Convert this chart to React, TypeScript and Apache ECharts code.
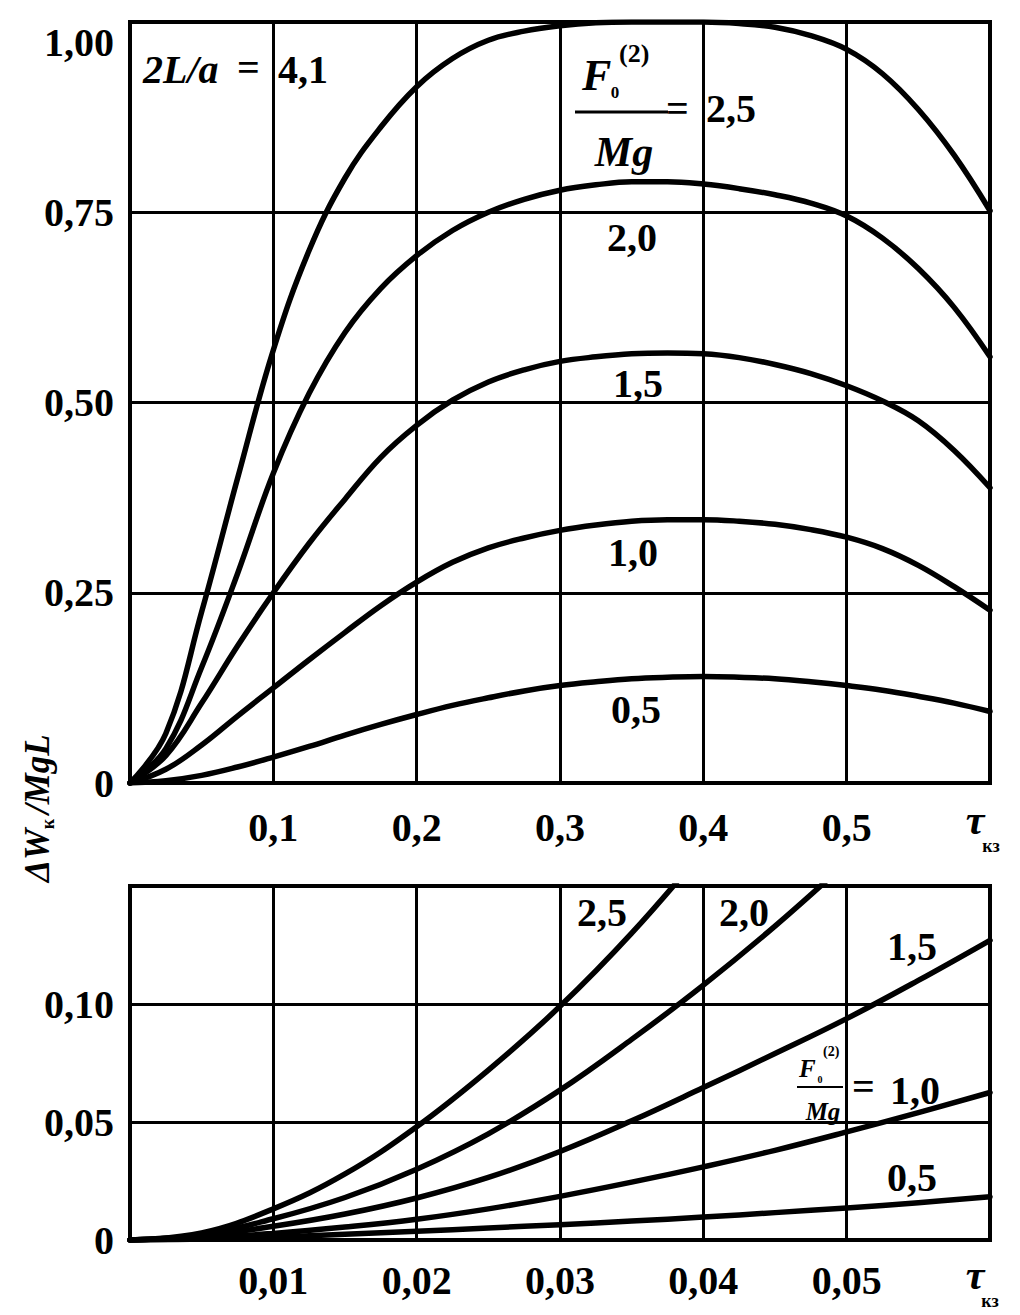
import React, { useEffect, useRef } from "react";
import * as echarts from "echarts";

// ---------- data ----------
const tauTop = [0, 0.025, 0.05, 0.075, 0.1, 0.125, 0.15, 0.175, 0.2, 0.225, 0.25, 0.275, 0.3, 0.325, 0.35, 0.375, 0.4, 0.425, 0.45, 0.475, 0.5, 0.525, 0.55, 0.575, 0.6];
const top25 = [0, 0.065, 0.225, 0.4, 0.569, 0.7, 0.795, 0.862, 0.915, 0.952, 0.976, 0.988, 0.995, 0.999, 1.0, 1.0, 1.0, 0.998, 0.993, 0.982, 0.964, 0.932, 0.885, 0.825, 0.752];
const top20 = [0, 0.045, 0.152, 0.275, 0.407, 0.512, 0.592, 0.65, 0.693, 0.726, 0.75, 0.767, 0.779, 0.786, 0.79, 0.79, 0.787, 0.781, 0.773, 0.762, 0.745, 0.716, 0.676, 0.625, 0.56];
const top15 = [0, 0.036, 0.105, 0.18, 0.25, 0.315, 0.373, 0.428, 0.47, 0.503, 0.527, 0.543, 0.554, 0.56, 0.564, 0.565, 0.564, 0.559, 0.55, 0.538, 0.522, 0.502, 0.476, 0.437, 0.388];
const top10 = [0, 0.018, 0.05, 0.088, 0.125, 0.162, 0.198, 0.233, 0.264, 0.29, 0.309, 0.322, 0.332, 0.339, 0.344, 0.346, 0.346, 0.344, 0.34, 0.333, 0.323, 0.308, 0.286, 0.258, 0.227];
const top05 = [0, 0.003, 0.01, 0.021, 0.034, 0.048, 0.063, 0.077, 0.09, 0.102, 0.112, 0.121, 0.128, 0.133, 0.137, 0.139, 0.14, 0.139, 0.137, 0.133, 0.128, 0.122, 0.114, 0.105, 0.094];

const tauBot = [0, 0.005, 0.01, 0.015, 0.02, 0.025, 0.03, 0.035, 0.04, 0.045, 0.05, 0.055, 0.06];
const bot25 = [0, 0.003, 0.0132, 0.028, 0.048, 0.072, 0.099, 0.13, 0.165];
const bot20 = [0, 0.0022, 0.009, 0.018, 0.03, 0.045, 0.0635, 0.085, 0.108, 0.133, 0.16];
const bot15 = [0, 0.0018, 0.0058, 0.011, 0.0178, 0.0265, 0.0375, 0.0505, 0.0646, 0.079, 0.0938, 0.11, 0.127];
const bot10 = [0, 0.0008, 0.0028, 0.0055, 0.0088, 0.0132, 0.0185, 0.0245, 0.031, 0.038, 0.0458, 0.054, 0.0625];
const bot05 = [0, 0.0004, 0.0012, 0.0024, 0.0037, 0.0051, 0.0065, 0.008, 0.0097, 0.0116, 0.0136, 0.0158, 0.0183];

const topXTicks = ["", "0,1", "0,2", "0,3", "0,4", "0,5", ""];
const topYTicks = ["0", "0,25", "0,50", "0,75", "{t|1,00}"];
const botXTicks = ["", "0,01", "0,02", "0,03", "0,04", "0,05", ""];
const botYTicks = ["0", "0,05", "0,10", ""];

const topCurveLabels = ["2,0", "1,5", "1,0", "0,5"];
const botCurveLabels = ["2,5", "2,0", "1,5", "0,5"];

// ---------- styling ----------
const FF = '"Liberation Serif", "Times New Roman", serif';
const BLACK = "#000";

const pairs = (tau: number[], vals: number[]) => vals.map((v, i) => [tau[i], v]);

const lineSeries = (data: number[][], axis: number) => ({
  type: "line",
  xAxisIndex: axis,
  yAxisIndex: axis,
  data,
  smooth: 0.4,
  symbol: "none",
  showSymbol: false,
  clip: true,
  silent: true,
  lineStyle: { color: BLACK, width: 5.5, cap: "round", join: "round" },
});

const labelStyle = { color: BLACK, fontFamily: FF, fontSize: 40, fontWeight: "bold" };

const makeXAxis = (gridIndex: number, max: number, interval: number, ticks: string[], margin: number) => ({
  gridIndex,
  type: "value",
  min: 0,
  max,
  interval,
  axisLine: { show: false },
  axisTick: { show: false },
  splitLine: { show: true, lineStyle: { color: BLACK, width: 3 } },
  axisLabel: {
    ...labelStyle,
    margin,
    showMinLabel: true,
    showMaxLabel: true,
    formatter: (v: number) => ticks[Math.round(v / interval)] ?? "",
  },
});

const makeYAxis = (gridIndex: number, max: number, interval: number, ticks: string[]) => ({
  gridIndex,
  type: "value",
  min: 0,
  max,
  interval,
  axisLine: { show: false },
  axisTick: { show: false },
  splitLine: { show: true, lineStyle: { color: BLACK, width: 3 } },
  axisLabel: {
    ...labelStyle,
    margin: 16,
    showMinLabel: true,
    showMaxLabel: true,
    formatter: (v: number) => ticks[Math.round(v / interval)] ?? "",
    rich: { t: { ...labelStyle, padding: [40, 0, 0, 0] } },
  },
});

const txt = (text: string, x: number, y: number, font: string, align = "center") => ({
  type: "text",
  x,
  y,
  silent: true,
  style: {
    text,
    font,
    fill: BLACK,
    align,
    textAlign: align,
    verticalAlign: "middle",
    textVerticalAlign: "middle",
  },
});

const B40 = `bold 40px ${FF}`;
const BI40 = `italic bold 40px ${FF}`;

const graphics: any[] = [
  // 2L/a = 4,1
  txt("2L/a", 143, 69, BI40, "left"),
  txt("=", 237, 67, B40, "left"),
  txt("4,1", 278, 69, B40, "left"),
  // F0(2)/Mg = 2,5
  txt("F", 582, 75, `italic bold 44px ${FF}`, "left"),
  txt("0", 615, 92, `bold 17px ${FF}`, "center"),
  txt("(2)", 619, 53, `bold 26px ${FF}`, "left"),
  { type: "line", silent: true, shape: { x1: 575, y1: 112, x2: 668, y2: 112 }, style: { stroke: BLACK, lineWidth: 3 } },
  txt("Mg", 624, 152, `italic bold 42px ${FF}`, "center"),
  txt("=", 666, 108, B40, "left"),
  txt("2,5", 706, 108, B40, "left"),
  // top curve labels
  txt(topCurveLabels[0], 632, 237, B40),
  txt(topCurveLabels[1], 638, 383, B40),
  txt(topCurveLabels[2], 633, 552, B40),
  txt(topCurveLabels[3], 636, 709, B40),
  // tau_kz top
  txt("τ", 975, 820, `italic bold 42px ${FF}`, "center"),
  txt("кз", 991, 846, `bold 18px ${FF}`, "center"),
  // bottom curve labels
  txt(botCurveLabels[0], 602, 912, B40),
  txt(botCurveLabels[1], 744, 912, B40),
  txt(botCurveLabels[2], 912, 946, B40),
  txt(botCurveLabels[3], 912, 1177, B40),
  // F0(2)/Mg = 1,0 (small)
  txt("F", 799, 1068, `italic bold 25px ${FF}`, "left"),
  txt("0", 820, 1079, `bold 10px ${FF}`, "center"),
  txt("(2)", 823, 1051, `bold 14px ${FF}`, "left"),
  { type: "line", silent: true, shape: { x1: 797, y1: 1087, x2: 843, y2: 1087 }, style: { stroke: BLACK, lineWidth: 2 } },
  txt("Mg", 823, 1111, `italic bold 25px ${FF}`, "center"),
  txt("=", 852, 1086, B40, "left"),
  txt("1,0", 890, 1090, B40, "left"),
  // tau_kz bottom
  txt("τ", 975, 1275, `italic bold 42px ${FF}`, "center"),
  txt("кз", 990, 1301, `bold 18px ${FF}`, "center"),
  // y axis title, rotated
  {
    type: "group",
    x: 37,
    y: 806,
    rotation: Math.PI / 2,
    silent: true,
    children: [
      txt("ΔW", -76, 0, `italic bold 35px ${FF}`, "left"),
      txt("к", -18, 11, `bold 18px ${FF}`, "center"),
      txt("/MgL", -8, 0, `italic bold 35px ${FF}`, "left"),
    ],
  },
];

const option: any = {
  animation: false,
  backgroundColor: "#fff",
  grid: [
    { left: 130, top: 22, width: 860, height: 761, show: true, borderColor: BLACK, borderWidth: 4, backgroundColor: "transparent", containLabel: false },
    { left: 130, top: 886, width: 860, height: 354, show: true, borderColor: BLACK, borderWidth: 4, backgroundColor: "transparent", containLabel: false },
  ],
  xAxis: [makeXAxis(0, 0.6, 0.1, topXTicks, 24), makeXAxis(1, 0.06, 0.01, botXTicks, 20)],
  yAxis: [makeYAxis(0, 1, 0.25, topYTicks), makeYAxis(1, 0.15, 0.05, botYTicks)],
  series: [
    lineSeries(pairs(tauTop, top25), 0),
    lineSeries(pairs(tauTop, top20), 0),
    lineSeries(pairs(tauTop, top15), 0),
    lineSeries(pairs(tauTop, top10), 0),
    lineSeries(pairs(tauTop, top05), 0),
    lineSeries(pairs(tauBot, bot25), 1),
    lineSeries(pairs(tauBot, bot20), 1),
    lineSeries(pairs(tauBot, bot15), 1),
    lineSeries(pairs(tauBot, bot10), 1),
    lineSeries(pairs(tauBot, bot05), 1),
  ],
  graphic: graphics,
};

export default function App() {
  const ref = useRef<HTMLDivElement>(null);
  useEffect(() => {
    if (!ref.current) return;
    const chart = echarts.init(ref.current, null, { renderer: "svg" });
    chart.setOption(option);
    return () => chart.dispose();
  }, []);
  return (
    <div
      ref={ref}
      style={{ position: "absolute", left: 0, top: 0, width: 1020, height: 1315, background: "#fff" }}
    />
  );
}
